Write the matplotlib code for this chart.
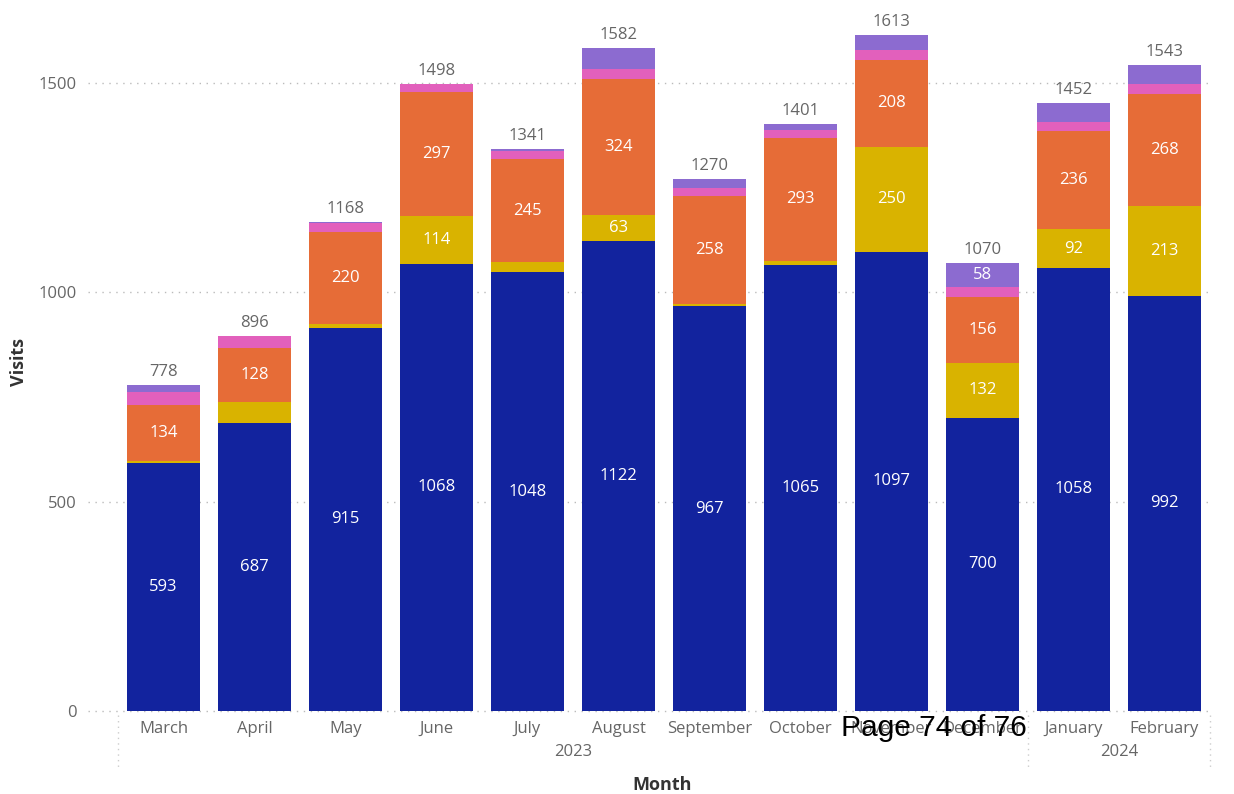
import matplotlib
matplotlib.use("Agg")
import matplotlib.pyplot as plt
import matplotlib.transforms as mtransforms
import numpy as np

# Monthly visits, stacked by channel (bottom to top)
months = ["March", "April", "May", "June", "July", "August", "September",
          "October", "November", "December", "January", "February"]
years = ["2023", "2024"]
months_per_year = [10, 2]

blue = [593, 687, 915, 1068, 1048, 1122, 967, 1065, 1097, 700, 1058, 992]
gold = [3, 52, 8, 114, 24, 63, 5, 10, 250, 132, 92, 213]
orange = [134, 128, 220, 297, 245, 324, 258, 293, 208, 156, 236, 268]
pink = [31, 29, 22, 19, 21, 23, 18, 20, 23, 24, 20, 24]
purple = [17, 0, 3, 0, 3, 50, 22, 13, 35, 58, 46, 46]

yticks = [0, 500, 1000, 1500]

series = [blue, gold, orange, pink, purple]
colors = ["#12239E", "#D9B300", "#E66C37", "#E260BC", "#8C6BD0"]
label_min = 55

plt.rcParams["font.family"] = ["Open Sans", "DejaVu Sans"]
gray = "#666666"

fig = plt.figure(figsize=(12.34, 7.94), dpi=100)
ax = fig.add_axes([118 / 1234, 1 - 711 / 794, (1210 - 118) / 1234, 691 / 794])

x = np.arange(len(months))
bottom = np.zeros(len(months))
for vals, col in zip(series, colors):
    vals = np.array(vals, dtype=float)
    ax.bar(x, vals, bottom=bottom, width=0.8, color=col, zorder=3)
    for xi, b, v in zip(x, bottom, vals):
        if v >= label_min:
            ax.text(xi, b + v / 2, f"{int(v)}", ha="center", va="center",
                    color="white", fontsize=12, zorder=4)
    bottom += vals

for xi, tot in zip(x, bottom):
    ax.text(xi, tot + 12, f"{int(tot)}", ha="center", va="bottom",
            color=gray, fontsize=12, zorder=4)

ax.set_xlim(-0.5, len(months) - 0.5)
ax.set_ylim(0, 1650)

# Dotted horizontal gridlines, reaching a little past the plot's left edge
for yv in yticks:
    ax.plot([-0.83, len(months) - 0.5], [yv, yv], linestyle=(0, (1, 4)),
            color="#BBBBBB", linewidth=1, clip_on=False, zorder=1)

ax.set_yticks(yticks)
ax.set_yticklabels([str(v) for v in yticks], color=gray, fontsize=12)
ax.tick_params(axis="y", length=0, pad=30)
ax.set_xticks(x)
ax.set_xticklabels(months, color=gray, fontsize=12)
ax.tick_params(axis="x", length=0, pad=7)
for s in ax.spines.values():
    s.set_visible(False)

# Year grouping under the month labels
trans = mtransforms.blended_transform_factory(ax.transData, fig.transFigure)
start = -0.5
seps = [start]
for yr, n in zip(years, months_per_year):
    end = start + n
    ax.text((start + end) / 2, 1 - 752 / 794, yr, transform=trans,
            ha="center", va="center", color=gray, fontsize=12)
    seps.append(end)
    start = end
for sx in seps:
    ax.plot([sx, sx], [1 - 715 / 794, 1 - 770 / 794], transform=trans,
            linestyle=(0, (1, 3)), color="#CCCCCC", linewidth=1, clip_on=False)

fig.text(19 / 1234, 1 - 362 / 794, "Visits", rotation=90, ha="center",
         va="center", fontsize=13, fontweight="bold", color="#333333")
fig.text(662 / 1234, 1 - 785 / 794, "Month", ha="center", va="center",
         fontsize=13, fontweight="bold", color="#333333")

fig.text(934 / 1234, 1 - 728 / 794, "Page 74 of 76", ha="center", va="center",
         fontsize=21.5, color="black", family="Liberation Sans")

fig.savefig("out.png", dpi=100, facecolor="white")
